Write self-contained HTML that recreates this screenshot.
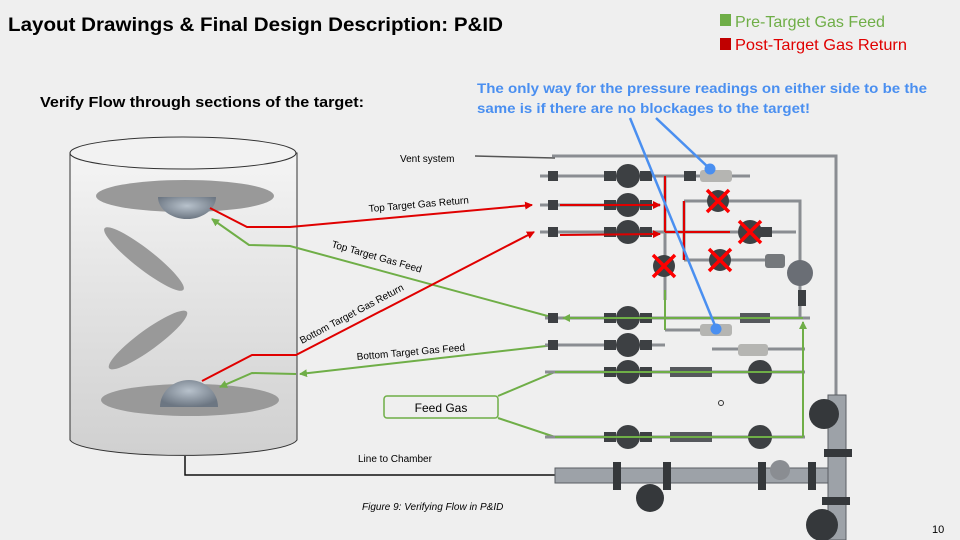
<!DOCTYPE html>
<html><head><meta charset="utf-8"><style>
html,body{margin:0;padding:0;background:#efefef;}
svg{display:block;font-family:"Liberation Sans",sans-serif;}
</style></head><body>
<svg width="960" height="540" viewBox="0 0 960 540" xmlns="http://www.w3.org/2000/svg">
<defs>
<linearGradient id="cyl" x1="0" y1="0" x2="0" y2="1"><stop offset="0" stop-color="#f4f4f4"/><stop offset="1" stop-color="#d0d0d0"/></linearGradient>
<radialGradient id="dome" cx="0.5" cy="0.4" r="0.6"><stop offset="0" stop-color="#b8c2cc"/><stop offset="1" stop-color="#6c7682"/></radialGradient>
<marker id="ar" markerWidth="8" markerHeight="8" refX="7" refY="4" orient="auto" markerUnits="userSpaceOnUse"><path d="M0,0 L8,4 L0,8z" fill="#e00000"/></marker>
<marker id="ag" markerWidth="8" markerHeight="8" refX="7" refY="4" orient="auto" markerUnits="userSpaceOnUse"><path d="M0,0 L8,4 L0,8z" fill="#6fae47"/></marker>
</defs>
<rect width="960" height="540" fill="#efefef"/>
<text x="8" y="31" font-size="19" font-weight="bold" textLength="495" lengthAdjust="spacingAndGlyphs">Layout Drawings &amp; Final Design Description: P&amp;ID</text>
<rect x="720" y="14" width="11" height="12" fill="#6fae47"/>
<text x="735" y="27" font-size="16" fill="#6fae47" textLength="150" lengthAdjust="spacingAndGlyphs">Pre-Target Gas Feed</text>
<rect x="720" y="38" width="11" height="12" fill="#c00000"/>
<text x="735" y="50" font-size="16" fill="#e00000" textLength="172" lengthAdjust="spacingAndGlyphs">Post-Target Gas Return</text>
<text x="40" y="107" font-size="15" font-weight="bold" textLength="324" lengthAdjust="spacingAndGlyphs">Verify Flow through sections of the target:</text>
<text x="477" y="93" font-size="14" font-weight="bold" fill="#4a8ff0" textLength="450" lengthAdjust="spacingAndGlyphs">The only way for the pressure readings on either side to be the</text>
<text x="477" y="113" font-size="14" font-weight="bold" fill="#4a8ff0" textLength="333" lengthAdjust="spacingAndGlyphs">same is if there are no blockages to the target!</text>

<!-- cylinder -->
<path d="M70,153 L70,440 A114,17 0 0 0 297,440 L297,153 Z" fill="url(#cyl)" stroke="#333" stroke-width="1"/>
<ellipse cx="183" cy="153" rx="113" ry="16" fill="#f2f2f2" stroke="#333" stroke-width="1"/>
<ellipse cx="185" cy="196" rx="89" ry="16" fill="#999"/>
<path d="M158,197 L216,197 A29,22 0 0 1 158,197Z" fill="url(#dome)"/>
<ellipse cx="144" cy="259" rx="50" ry="10" fill="#999" transform="rotate(38 144 259)"/>
<ellipse cx="148" cy="340" rx="48" ry="10" fill="#999" transform="rotate(-36 148 340)"/>
<ellipse cx="190" cy="400" rx="89" ry="16" fill="#999"/>
<path d="M160,407 A29,27 0 0 1 218,407 Z" fill="url(#dome)"/>
<polyline points="185,456 185,475 555,475" fill="none" stroke="#111" stroke-width="1.5"/>

<!-- gas lines -->
<polyline points="210,208 247,227 290,227 532,205" fill="none" stroke="#e00000" stroke-width="2" marker-end="url(#ar)"/>
<polyline points="555,318 290,246 249,245 212,219" fill="none" stroke="#6fae47" stroke-width="2" marker-end="url(#ag)"/>
<polyline points="202,381 252,355 296,355 534,232" fill="none" stroke="#e00000" stroke-width="2" marker-end="url(#ar)"/>
<polyline points="555,345 300,374" fill="none" stroke="#6fae47" stroke-width="2" marker-end="url(#ag)"/>
<polyline points="296,374 252,373 220,387" fill="none" stroke="#6fae47" stroke-width="2" marker-end="url(#ag)"/>
<text font-size="10" transform="translate(369,212) rotate(-5)">Top Target Gas Return</text>
<text font-size="10" transform="translate(331,247) rotate(16)">Top Target Gas Feed</text>
<text font-size="10" transform="translate(302,344) rotate(-28)">Bottom Target Gas Return</text>
<text font-size="10" transform="translate(357,360) rotate(-5)">Bottom Target Gas Feed</text>
<text x="400" y="162" font-size="10">Vent system</text>
<line x1="475" y1="156" x2="555" y2="158" stroke="#555" stroke-width="1.5"/>
<rect x="384" y="396" width="114" height="22" rx="3" fill="none" stroke="#6fae47" stroke-width="1.5"/>
<text x="441" y="412" font-size="12" text-anchor="middle">Feed Gas</text>
<line x1="498" y1="396" x2="555" y2="372" stroke="#6fae47" stroke-width="2"/>
<line x1="498" y1="418" x2="555" y2="437" stroke="#6fae47" stroke-width="2"/>
<text x="358" y="462" font-size="10">Line to Chamber</text>
<text x="362" y="510" font-size="10" font-style="italic">Figure 9: Verifying Flow in P&amp;ID</text>
<text x="932" y="533" font-size="11">10</text>

<!-- P&ID pipes -->
<g stroke="#8a8d92" stroke-width="3" fill="none">
<polyline points="552,156 836,156 836,398"/>
<line x1="540" y1="176" x2="750" y2="176"/>
<line x1="540" y1="205" x2="660" y2="205"/>
<line x1="540" y1="232" x2="796" y2="232"/>
<polyline points="684,201 800,201 800,318"/>
<line x1="684" y1="260" x2="770" y2="260"/>
<line x1="665" y1="176" x2="665" y2="300"/>
<line x1="684" y1="201" x2="684" y2="260"/>
<line x1="545" y1="318" x2="810" y2="318"/>
<line x1="545" y1="345" x2="665" y2="345"/>
<line x1="665" y1="330" x2="730" y2="330"/>
<line x1="545" y1="372" x2="805" y2="372"/>
<line x1="545" y1="437" x2="805" y2="437"/>
<line x1="712" y1="349" x2="805" y2="349"/>
</g>
<g fill="#3d4043">
<circle cx="628" cy="176" r="12"/><circle cx="628" cy="205" r="12"/><circle cx="628" cy="232" r="12"/>
<circle cx="628" cy="318" r="12"/><circle cx="628" cy="345" r="12"/><circle cx="628" cy="372" r="12"/><circle cx="628" cy="437" r="12"/>
<circle cx="718" cy="201" r="11"/><circle cx="750" cy="232" r="12"/><circle cx="720" cy="260" r="11"/><circle cx="664" cy="266" r="11"/>
<circle cx="760" cy="372" r="12"/><circle cx="760" cy="437" r="12"/>
<circle cx="800" cy="273" r="13" fill="#6a6e75"/>
<rect x="548" y="171" width="10" height="10"/><rect x="548" y="200" width="10" height="10"/><rect x="548" y="227" width="10" height="10"/>
<rect x="548" y="313" width="10" height="10"/><rect x="548" y="340" width="10" height="10"/>
<rect x="604" y="171" width="12" height="10"/><rect x="640" y="171" width="12" height="10"/>
<rect x="604" y="200" width="12" height="10"/><rect x="640" y="200" width="12" height="10"/>
<rect x="604" y="227" width="12" height="10"/><rect x="640" y="227" width="12" height="10"/>
<rect x="604" y="313" width="12" height="10"/><rect x="640" y="313" width="12" height="10"/>
<rect x="604" y="340" width="12" height="10"/><rect x="640" y="340" width="12" height="10"/>
<rect x="604" y="367" width="12" height="10"/><rect x="640" y="367" width="12" height="10"/>
<rect x="604" y="432" width="12" height="10"/><rect x="640" y="432" width="12" height="10"/>
<rect x="670" y="367" width="42" height="10" fill="#55585c"/><rect x="670" y="432" width="42" height="10" fill="#55585c"/>
<rect x="684" y="171" width="12" height="10"/><rect x="760" y="227" width="12" height="10"/>
<rect x="740" y="313" width="30" height="10" fill="#55585c"/>
<rect x="798" y="290" width="8" height="16"/>
</g>
<rect x="700" y="170" width="32" height="12" rx="3" fill="#b5b5b2"/>
<rect x="700" y="324" width="32" height="12" rx="3" fill="#b5b5b2"/>
<rect x="738" y="344" width="30" height="12" rx="3" fill="#b5b5b2"/>
<rect x="765" y="254" width="20" height="14" rx="3" fill="#75787c"/>
<!-- chamber pipe -->
<g fill="#9da2a8" stroke="#5a5e63" stroke-width="1">
<rect x="555" y="468" width="290" height="15"/>
<rect x="828" y="395" width="18" height="145"/>
</g>
<g fill="#35383b">
<rect x="613" y="462" width="8" height="28"/><rect x="663" y="462" width="8" height="28"/>
<rect x="758" y="462" width="8" height="28"/><rect x="808" y="462" width="8" height="28"/>
<rect x="824" y="449" width="28" height="8"/><rect x="822" y="497" width="28" height="8"/>
<circle cx="650" cy="498" r="14"/><circle cx="824" cy="414" r="15"/><circle cx="822" cy="525" r="16"/>
<circle cx="780" cy="470" r="10" fill="#8a8d92"/>
</g>
<!-- red internal -->
<g stroke="#e00000" stroke-width="2" fill="none">
<line x1="665" y1="176" x2="665" y2="232"/>
<polyline points="684,201 684,260"/>
<line x1="665" y1="232" x2="730" y2="232"/>
<line x1="560" y1="205" x2="660" y2="205" marker-end="url(#ar)"/>
<line x1="560" y1="235" x2="660" y2="234" marker-end="url(#ar)"/>
</g>
<!-- green internal -->
<g stroke="#6fae47" stroke-width="2" fill="none">
<line x1="803" y1="318" x2="563" y2="318" marker-end="url(#ag)"/>
<line x1="665" y1="290" x2="665" y2="330"/>
<line x1="803" y1="437" x2="803" y2="322" marker-end="url(#ag)"/>
<line x1="555" y1="372" x2="803" y2="372"/>
<line x1="555" y1="437" x2="803" y2="437"/>
</g>
<!-- red X's -->
<g stroke="#ff0000" stroke-width="3.5">
<path d="M707,190 L729,212 M729,190 L707,212"/>
<path d="M739,221 L761,243 M761,221 L739,243"/>
<path d="M709,249 L731,271 M731,249 L709,271"/>
<path d="M653,255 L675,277 M675,255 L653,277"/>
</g>
<circle cx="721" cy="403" r="2.5" fill="none" stroke="#333"/>
<!-- blue pointers -->
<g stroke="#4a8ff0" stroke-width="2.5">
<line x1="630" y1="118" x2="716" y2="328"/>
<line x1="656" y1="118" x2="709" y2="168"/>
</g>
<circle cx="716" cy="329" r="5.5" fill="#4a8ff0"/>
<circle cx="710" cy="169" r="5.5" fill="#4a8ff0"/>
</svg>
</body></html>
